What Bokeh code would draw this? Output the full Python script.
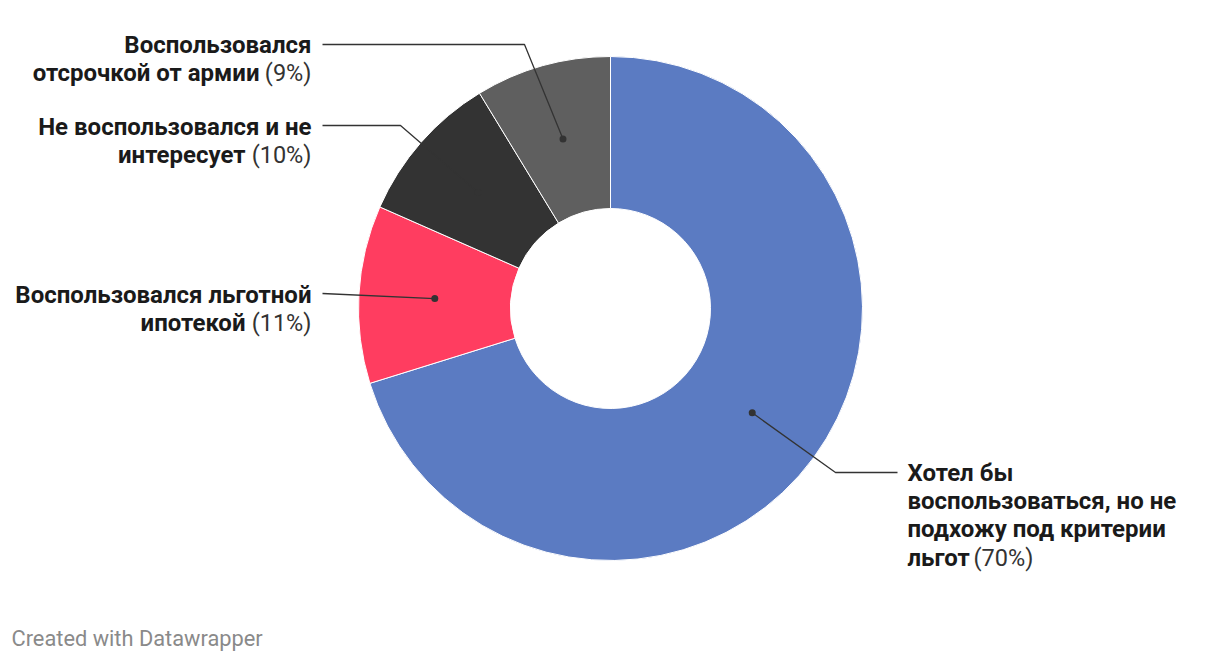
import numpy as np
from bokeh.plotting import figure
from bokeh.models import Range1d
from bokeh.core.properties import value
from bokeh.embed import file_html
from bokeh.resources import INLINE

# ---- data ----
categories = [
    "Хотел бы\nвоспользоваться, но не\nподхожу под критерии\nльгот",
    "Воспользовался льготной\nипотекой",
    "Не воспользовался и не\nинтересует",
    "Воспользовался\nотсрочкой от армии",
]
shares = [70.2, 11.4, 9.7, 8.7]
colors = ["#5b7bc2", "#ff3d60", "#333333", "#5f5f5f"]

# ---- layout (pixel-like data space, y up; y_data = 662 - y_img) ----
W, H = 1212, 654
def Y(yimg):
    return 662 - yimg

p = figure(width=W, height=H, x_range=Range1d(0, W), y_range=Range1d(662 - H, 662),
           output_backend="svg", toolbar_location=None, min_border=0)
p.axis.visible = False
p.grid.visible = False
p.outline_line_color = None
p.background_fill_color = "white"
p.border_fill_color = "white"

cx, cy = 610, Y(308)
r_in, r_out = 100, 252

vals = np.array(shares, dtype=float)
frac = vals / vals.sum()
cum = np.concatenate([[0], np.cumsum(frac)])
start = np.pi / 2 - 2 * np.pi * cum[:-1]
end = np.pi / 2 - 2 * np.pi * cum[1:]

p.annular_wedge(x=[cx] * 4, y=[cy] * 4, inner_radius=r_in, outer_radius=r_out,
                start_angle=list(start), end_angle=list(end), direction="clock",
                fill_color=colors, line_color="white", line_width=1)

mid = (start + end) / 2
r_mid = (r_in + r_out) / 2
dot_x = cx + r_mid * np.cos(mid)
dot_y = cy + r_mid * np.sin(mid)

# leader lines: elbow & end points (image coords)
elbows = [(835, 472), None, (400, 125), (524, 44)]
ends = [(897, 472), (322, 293), (322, 125), (322, 44)]
for i in range(4):
    xs = [dot_x[i]]
    ys = [dot_y[i]]
    if elbows[i] is not None:
        xs.append(elbows[i][0]); ys.append(Y(elbows[i][1]))
    xs.append(ends[i][0]); ys.append(Y(ends[i][1]))
    p.line(xs, ys, line_color="#333333", line_width=1.3)
p.scatter(dot_x, dot_y, size=7, fill_color="#333333", line_color=None)

# labels
FONT = value("Roboto")
FS = "24px"
FS2 = "23.5px"
LH = 28.4
label_x = [907, 311, 311, 311]
label_align = ["left", "right", "right", "right"]
label_top = [472, 294, 126, 44]
suffix_x = [973, 311, 311, 311]
lastbold_x = [907, 245, 245, 259]

for i in range(4):
    lines = categories[i].split("\n")
    pct = f"({round(shares[i])}%)"
    ys = [Y(label_top[i] + k * LH) for k in range(len(lines))]
    p.text(x=[label_x[i]] * (len(lines) - 1), y=ys[:-1], text=lines[:-1],
           text_font=FONT, text_font_size=FS, text_font_style="bold",
           text_color="#1a1a1a", text_align=label_align[i], text_baseline="middle")
    p.text(x=[lastbold_x[i]], y=[ys[-1]], text=[lines[-1]],
           text_font=FONT, text_font_size=FS, text_font_style="bold",
           text_color="#1a1a1a", text_align=label_align[i], text_baseline="middle")
    p.text(x=[suffix_x[i]], y=[ys[-1]], text=[pct],
           text_font=FONT, text_font_size=FS2, text_font_style="normal",
           text_color="#333333", text_align=label_align[i], text_baseline="middle")

p.text(x=[11], y=[Y(638)], text=["Created with Datawrapper"], text_font=FONT,
       text_font_size="21.8px", text_color="#8a8a8a", text_align="left",
       text_baseline="middle")

open("out.html", "w").write(file_html(p, INLINE))
